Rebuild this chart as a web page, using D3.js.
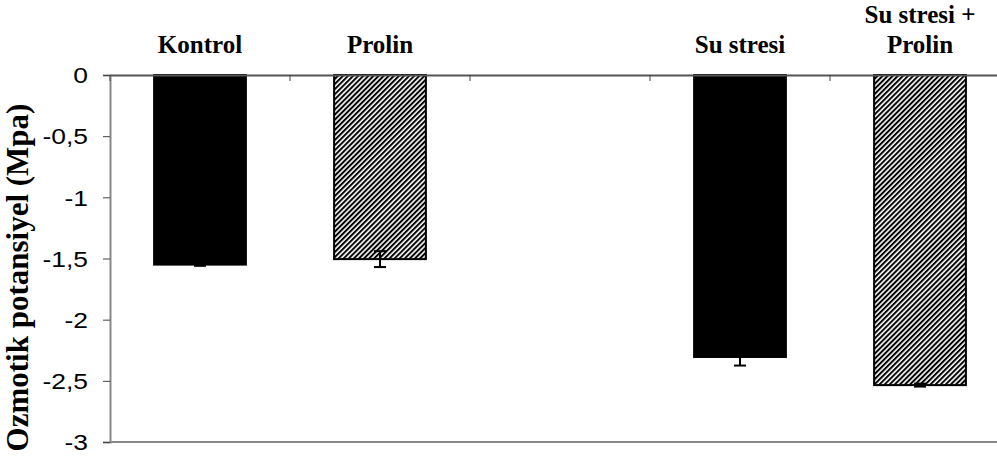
<!DOCTYPE html>
<html>
<head>
<meta charset="utf-8">
<script src="https://cdn.jsdelivr.net/npm/d3@7"></script>
<style>
  html, body { margin: 0; padding: 0; background: #fff; }
  svg { display: block; }
</style>
</head>
<body>
<svg id="chart" width="997" height="466"></svg>
<script>
// Osmotic potential by treatment (MPa)
const categories = [["Kontrol"], ["Prolin"], [""], ["Su stresi"], ["Su stresi +", "Prolin"]];
const keys = ["Kontrol", "Prolin", "bos", "Su stresi", "Su stresi + Prolin"];
const values = [-1.55, -1.505, null, -2.305, -2.535];
const errors = [0.01, 0.065, null, 0.07, 0.012];
const hatched = [false, true, false, false, true];
const yTicks = [0, -0.5, -1, -1.5, -2, -2.5, -3];

const margin = { left: 110, top: 75 };
const plotW = 900, plotH = 367;

const svg = d3.select("#chart");

// Diagonal stripe fill for the proline treatments
const defs = svg.append("defs");
const pat = defs.append("pattern")
  .attr("id", "stripes")
  .attr("patternUnits", "userSpaceOnUse")
  .attr("width", 3.6).attr("height", 10)
  .attr("patternTransform", "rotate(45)");
pat.append("rect").attr("width", 3.6).attr("height", 10).attr("fill", "#fff");
pat.append("rect").attr("width", 2).attr("height", 10).attr("fill", "#000");

const x = d3.scaleBand().domain(keys).range([margin.left, margin.left + plotW]).paddingInner(0).paddingOuter(0);
const y = d3.scaleLinear().domain([0, -3]).range([margin.top, margin.top + plotH]);

const g = svg.append("g");

// plot border (bottom)
g.append("line").attr("x1", margin.left).attr("x2", margin.left + plotW)
  .attr("y1", y(-3)).attr("y2", y(-3)).attr("stroke", "#888").attr("stroke-width", 2);

// bars
const barW = x.bandwidth() * 0.51;
keys.forEach((k, i) => {
  if (values[i] == null) return;
  const cx = x(k) + x.bandwidth() / 2;
  g.append("rect")
    .attr("x", cx - barW / 2)
    .attr("y", y(0))
    .attr("width", barW)
    .attr("height", y(values[i]) - y(0))
    .attr("fill", hatched[i] ? "url(#stripes)" : "#000")
    .attr("stroke", "#000")
    .attr("stroke-width", 2);
});

// error bars
keys.forEach((k, i) => {
  if (values[i] == null) return;
  const cx = x(k) + x.bandwidth() / 2;
  const lo = y(values[i] - errors[i]), hi = y(values[i] + errors[i]);
  const col = "#000";
  g.append("line").attr("x1", cx).attr("x2", cx).attr("y1", hi).attr("y2", lo)
    .attr("stroke", col).attr("stroke-width", 2);
  [lo, hi].forEach(v => g.append("line").attr("x1", cx - 6).attr("x2", cx + 6)
    .attr("y1", v).attr("y2", v).attr("stroke", col).attr("stroke-width", 2));
});

// y axis
const yAxis = d3.axisLeft(y).tickValues(yTicks).tickSize(7)
  .tickFormat(d => d3.format("")(d).replace(".", ",").replace("−", "-"));
const ya = svg.append("g").attr("transform", `translate(${margin.left},0)`).call(yAxis);
ya.select(".domain").attr("stroke", "#888").attr("stroke-width", 2);
ya.selectAll(".tick line").attr("stroke", "#444").attr("stroke-width", 1);
const sx = 1.2;
ya.selectAll(".tick text")
  .attr("font-family", "Liberation Sans, Arial, sans-serif")
  .attr("font-size", 22).attr("fill", "#000")
  .attr("transform", `scale(${sx},1)`)
  .attr("x", -22 / sx).attr("dy", "0.35em");

// category axis along the zero line
const xAxis = d3.axisBottom(x).tickSize(0).tickFormat("");
const xa = svg.append("g").attr("transform", `translate(0,${y(0)})`).call(xAxis);
xa.select(".domain").attr("stroke", "#555").attr("stroke-width", 2);
keys.forEach(k => {
  xa.append("line").attr("x1", x(k)).attr("x2", x(k)).attr("y1", 0).attr("y2", 6)
    .attr("stroke", "#444").attr("stroke-width", 1);
});

// category labels above the axis
keys.forEach((k, i) => {
  const cx = x(k) + x.bandwidth() / 2;
  const lines = categories[i];
  const t = svg.append("text")
    .attr("font-family", "Liberation Serif, Times New Roman, serif")
    .attr("font-weight", "bold").attr("font-size", 25)
    .attr("text-anchor", "middle").attr("fill", "#000");
  lines.forEach((ln, j) => {
    t.append("tspan").attr("x", cx)
      .attr("y", 53 - (lines.length - 1 - j) * 30)
      .text(ln);
  });
});

// y axis title
svg.append("text")
  .attr("transform", `translate(28,${(75 + 452) / 2 + 14}) rotate(-90)`)
  .attr("text-anchor", "middle")
  .attr("font-family", "Liberation Serif, Times New Roman, serif")
  .attr("font-weight", "bold").attr("font-size", 31)
  .attr("fill", "#000")
  .text("Ozmotik potansiyel (Mpa)");
</script>
</body>
</html>
